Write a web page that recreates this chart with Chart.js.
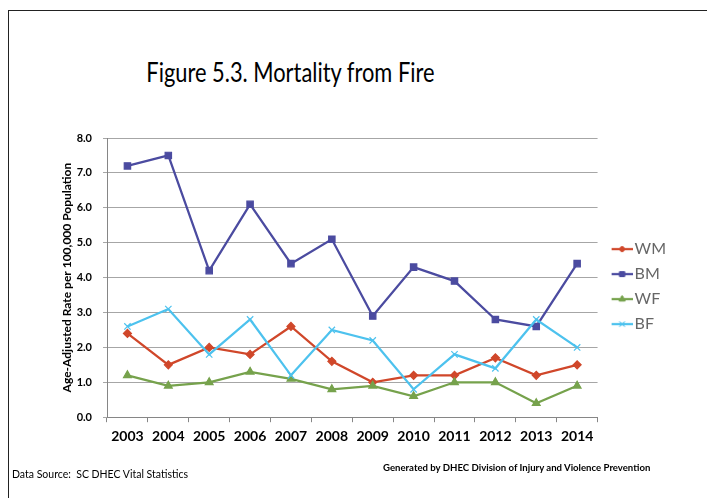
<!DOCTYPE html>
<html>
<head>
<meta charset="utf-8">
<script src="https://cdn.jsdelivr.net/npm/chart.js@4/dist/chart.umd.min.js"></script>
<style>
    body { margin: 0; background: #fff; }
    #wrap { position: relative; width: 707px; height: 498px; overflow: hidden; }
    #frame { position: absolute; left: 8px; top: 10px; width: 720px; height: 520px;
             border-left: 1.5px solid #222; border-top: 1.5px solid #222; }
    #title { position: absolute; left: 0; width: 581px; top: 56px; text-align: center;
             font: 26px Lato, sans-serif; color: #000; transform: scaleX(0.84); transform-origin: 290px 0; }
    #source { position: absolute; left: 12px; top: 468px; font: 10.5px Lato, sans-serif; color: #000; }
    #gen { position: absolute; left: 383px; top: 462px; font: bold 9.6px Lato, sans-serif; color: #000; }
    canvas { position: absolute; left: 0; top: 0; }
</style>
</head>
<body>
<div id="wrap">
    <div id="frame"></div>
    <div id="title">Figure 5.3. Mortality from Fire</div>
    <canvas id="fireChart" width="707" height="498"></canvas>
    <div id="source">Data Source:&nbsp; SC DHEC Vital Statistics</div>
    <div id="gen">Generated by DHEC Division of Injury and Violence Prevention</div>
</div>
<script>
/* DATA */
const years = ["2003", "2004", "2005", "2006", "2007", "2008", "2009", "2010", "2011", "2012", "2013", "2014"];
const seriesNames = ["WM", "BM", "WF", "BF"];
const wm = [2.4, 1.5, 2.0, 1.8, 2.6, 1.6, 1.0, 1.2, 1.2, 1.7, 1.2, 1.5];
const bm = [7.2, 7.5, 4.2, 6.1, 4.4, 5.1, 2.9, 4.3, 3.9, 2.8, 2.6, 4.4];
const wf = [1.2, 0.9, 1.0, 1.3, 1.1, 0.8, 0.9, 0.6, 1.0, 1.0, 0.4, 0.9];
const bf = [2.6, 3.1, 1.8, 2.8, 1.2, 2.5, 2.2, 0.8, 1.8, 1.4, 2.8, 2.0];
const yTicks = [0, 1, 2, 3, 4, 5, 6, 7, 8];

const colors = ["#D0472A", "#4B4BA0", "#76A24C", "#4DC2EE"];
const markers = ["rectRot", "rect", "triangle", "crossRot"];
const radii = [4, 4.5, 4.5, 4.5];

/* legend icon: short line with the marker on it (transparent on the left) */
function legendIcon(i) {
    const c = document.createElement("canvas");
    c.width = 32;
    c.height = 12;
    const ctx = c.getContext("2d");
    ctx.strokeStyle = colors[i];
    ctx.lineWidth = 2.25;
    ctx.beginPath();
    ctx.moveTo(11, 6);
    ctx.lineTo(32, 6);
    ctx.stroke();
    ctx.fillStyle = colors[i];
    ctx.lineWidth = 1;
    Chart.helpers.drawPoint(ctx, { pointStyle: markers[i], radius: radii[i] - 1, borderWidth: 1 }, 21.5, 6);
    ctx.fill();
    ctx.stroke();
    return c;
}

const allData = [wm, bm, wf, bf];
const datasets = allData.map((d, i) => ({
    label: seriesNames[i],
    data: d,
    borderColor: colors[i],
    backgroundColor: colors[i],
    borderWidth: 2.25,
    pointStyle: markers[i],
    pointRadius: radii[i],
    pointBorderWidth: 1.2,
    pointBackgroundColor: colors[i],
    pointBorderColor: colors[i],
    tension: 0,
    order: 4 - i
}));

new Chart(document.getElementById("fireChart"), {
    type: "line",
    data: { labels: years, datasets },
    options: {
        responsive: false,
        animation: false,
        layout: { padding: { top: 138, left: 56, right: 31, bottom: 47 } },
        plugins: {
            tooltip: { enabled: false },
            legend: {
                position: "right",
                align: "center",
                fullSize: false,
                // empty title just pushes the items down a little
                title: { display: true, text: "", padding: 3, font: { size: 10 } },
                labels: {
                    usePointStyle: true,
                    pointStyleWidth: 20,
                    padding: 9,
                    color: "#000",
                    font: { family: "Lato", size: 16 },
                    generateLabels: chart => chart.data.datasets.map((ds, i) => ({
                        text: ds.label,
                        pointStyle: legendIcon(i),
                        fillStyle: colors[i],
                        strokeStyle: colors[i],
                        lineWidth: 0,
                        hidden: false,
                        datasetIndex: i
                    }))
                }
            }
        },
        scales: {
            x: {
                offset: true,
                grid: { offset: true, drawOnChartArea: false, tickLength: 5, color: "#868686" },
                border: { color: "#868686", width: 1 },
                ticks: { color: "#000", padding: 6, font: { family: "Lato", weight: "bold", size: 14 } }
            },
            y: {
                min: yTicks[0],
                max: yTicks[yTicks.length - 1],
                afterBuildTicks: scale => { scale.ticks = yTicks.map(v => ({ value: v })); },
                afterFit: scale => { scale.width = 51; },
                grid: { color: "#A6A6A6", tickLength: 4 },
                border: { color: "#868686", width: 1 },
                ticks: {
                    color: "#000",
                    padding: 11,
                    font: { family: "Lato", weight: "bold", size: 11 },
                    callback: v => v.toFixed(1)
                },
                title: {
                    display: true,
                    text: "Age-Adjusted Rate per 100,000 Population",
                    color: "#000",
                    padding: { top: 4, bottom: 0 },
                    font: { family: "Lato", weight: "bold", size: 12 }
                }
            }
        }
    }
});
</script>
</body>
</html>
